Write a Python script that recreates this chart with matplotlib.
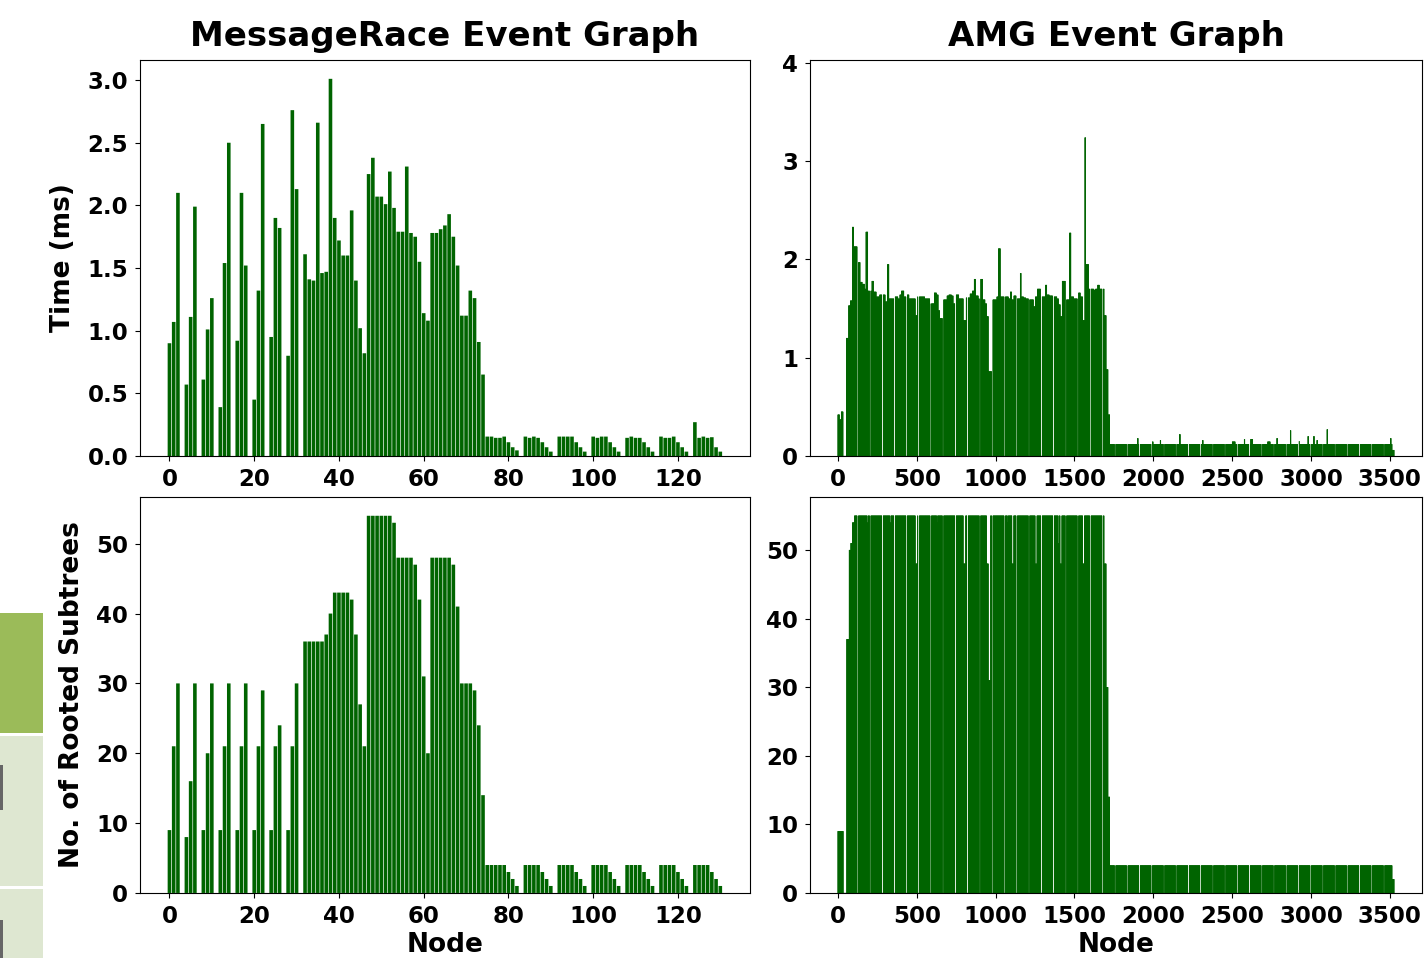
import numpy as np
import matplotlib
matplotlib.use("Agg")
import matplotlib.pyplot as plt
from matplotlib.patches import Rectangle

plt.rcParams['font.family'] = ['DejaVu Sans']
plt.rcParams['font.weight'] = 'bold'
plt.rcParams['axes.titleweight'] = 'bold'
plt.rcParams['axes.labelweight'] = 'bold'

# MessageRace event graph, one value per node (0..130)
mr_time = [0.90, 1.07, 2.10, 0, 0.57, 1.11, 1.99, 0, 0.61, 1.01, 1.26, 0,
           0.39, 1.54, 2.50, 0, 0.92, 2.10, 1.52, 0, 0.45, 1.32, 2.65, 0,
           0.95, 1.90, 1.82, 0, 0.80, 2.76, 2.13, 0, 1.61, 1.41, 1.40, 2.66,
           1.46, 1.47, 3.01, 1.90, 1.72, 1.60, 1.60, 1.96, 1.40, 1.02, 0.82, 2.25,
           2.38, 2.07, 2.07, 2.01, 2.27, 1.98, 1.79, 1.79, 2.31, 1.78, 1.75, 1.55,
           1.14, 1.08, 1.78, 1.78, 1.81, 1.84, 1.93, 1.75, 1.52, 1.12, 1.12, 1.32,
           1.26, 0.91, 0.65, 0.155, 0.155, 0.145, 0.145, 0.155, 0.11, 0.07, 0.045, 0,
           0.155, 0.145, 0.155, 0.145, 0.11, 0.07, 0.035, 0,
           0.155, 0.155, 0.155, 0.155, 0.11, 0.07, 0.035, 0,
           0.155, 0.145, 0.155, 0.155, 0.11, 0.07, 0.035, 0,
           0.145, 0.155, 0.145, 0.145, 0.11, 0.07, 0.035, 0,
           0.155, 0.145, 0.145, 0.155, 0.11, 0.07, 0.035, 0,
           0.27, 0.145, 0.155, 0.145, 0.15, 0.07, 0.035]

mr_subtrees = [9, 21, 30, 0, 8, 16, 30, 0, 9, 20, 30, 0,
               9, 21, 30, 0, 9, 21, 30, 0, 9, 21, 29, 0,
               9, 21, 24, 0, 9, 21, 30, 0, 36, 36, 36, 36,
               36, 37, 40, 43, 43, 43, 43, 42, 37, 27, 21, 54,
               54, 54, 54, 54, 54, 53, 48, 48, 48, 48, 47, 42,
               31, 20, 48, 48, 48, 48, 48, 47, 41, 30, 30, 30,
               29, 24, 14, 4, 4, 4, 4, 4, 3, 2, 1, 0,
               4, 4, 4, 4, 3, 2, 1, 0,
               4, 4, 4, 4, 3, 2, 1, 0,
               4, 4, 4, 4, 3, 2, 1, 0,
               4, 4, 4, 4, 3, 2, 1, 0,
               4, 4, 4, 4, 3, 2, 1, 0,
               4, 4, 4, 4, 3, 2, 1]

# AMG event graph, read as runs: first node of each run and its value
amg_nodes = 3528
amg_time_start = [0, 11, 21, 34, 53, 68, 79, 91, 102, 123, 142, 155, 170, 178,
                  191, 216, 227, 244, 265, 301, 314, 325, 361, 382, 393, 403,
                  420, 437, 452, 492, 505, 552, 584, 611, 626, 637, 647, 668,
                  692, 704, 721, 732, 749, 768, 785, 796, 813, 838, 853, 864,
                  874, 891, 906, 919, 934, 944, 955, 976, 1008, 1018, 1031,
                  1056, 1082, 1093, 1103, 1116, 1135, 1156, 1163, 1178, 1192,
                  1216, 1241, 1252, 1265, 1286, 1316, 1326, 1341, 1362, 1390,
                  1400, 1411, 1422, 1443, 1468, 1479, 1496, 1521, 1538, 1553,
                  1566, 1572, 1591, 1623, 1634, 1647, 1659, 1676, 1689, 1702,
                  1714, 1725, 1899, 1905, 1990, 2000, 2043, 2049, 2165, 2172,
                  2311, 2317, 2500, 2520, 2576, 2582, 2617, 2632, 2725, 2742,
                  2783, 2789, 2868, 2874, 2921, 2927, 2980, 2986, 3016, 3022,
                  3037, 3043, 3101, 3107, 3503, 3509, 3515]
amg_time_value = [0.42, 0.37, 0.45, 0.0, 1.20, 1.53, 1.58, 2.33, 2.13, 1.97, 1.77,
                  1.75, 1.70, 2.28, 1.68, 1.78, 1.67, 1.62, 1.64, 1.57, 1.95,
                  1.60, 1.62, 1.60, 1.64, 1.68, 1.62, 1.64, 1.60, 1.43, 1.62,
                  1.60, 1.55, 1.66, 1.64, 1.48, 1.40, 1.59, 1.63, 1.64, 1.63,
                  1.55, 1.64, 1.60, 1.60, 1.38, 1.61, 1.65, 1.68, 1.80, 1.63,
                  1.60, 1.80, 1.59, 1.55, 1.42, 0.86, 1.59, 1.62, 2.11, 1.62,
                  1.62, 1.60, 1.67, 1.59, 1.63, 1.60, 1.86, 1.62, 1.61, 1.60,
                  1.59, 1.52, 1.62, 1.70, 1.62, 1.74, 1.64, 1.63, 1.62, 1.60,
                  1.54, 1.42, 1.78, 1.59, 2.27, 1.62, 1.60, 1.66, 1.62, 1.38,
                  3.24, 1.95, 1.70, 1.69, 1.70, 1.74, 1.70, 1.70, 1.43, 0.88,
                  0.42, 0.12, 0.18, 0.12, 0.145, 0.12, 0.16, 0.12, 0.22, 0.12,
                  0.16, 0.12, 0.145, 0.12, 0.17, 0.12, 0.17, 0.12, 0.145, 0.12,
                  0.18, 0.12, 0.26, 0.12, 0.15, 0.12, 0.20, 0.12, 0.20, 0.12,
                  0.16, 0.12, 0.27, 0.12, 0.18, 0.12, 0.06]

amg_sub_start = [0, 35, 56, 71, 82, 92, 105, 187, 192, 331, 336, 492, 505,
                 628, 632, 796, 810, 944, 955, 968, 1076, 1080, 1105, 1115,
                 1252, 1262, 1398, 1403, 1410, 1420, 1553, 1563, 1689, 1702,
                 1714, 1725, 3515]
amg_sub_value = [9, 0, 37, 50, 51, 54, 55, 54, 55, 54, 55, 48, 55,
                 54, 55, 48, 55, 48, 31, 55, 54, 55, 48, 55,
                 48, 55, 51, 55, 48, 55, 48, 55, 48, 30,
                 14, 4, 2]

# empty node runs (white stripes) seen in both AMG panels
amg_gap_start = [123, 202, 280, 356, 433, 509, 586, 664, 743, 819, 898, 976,
                 1055, 1131, 1209, 1288, 1364, 1443, 1519, 1598, 1676, 1755,
                 1832, 1910, 1987, 2065, 2142, 2220, 2297, 2375, 2452, 2530,
                 2607, 2685, 2762, 2840, 2917, 2995, 3072, 3150, 3227, 3305,
                 3382, 3460]
amg_gap_len = 7


def expand(starts, values, n):
    lengths = np.diff(list(starts) + [n])
    return np.repeat(values, lengths).astype(float)


amg_time = expand(amg_time_start, amg_time_value, amg_nodes)
amg_subtrees = expand(amg_sub_start, amg_sub_value, amg_nodes)
for s in amg_gap_start:
    amg_time[s:s + amg_gap_len] = 0
    amg_subtrees[s:s + amg_gap_len] = 0
mr_x = np.arange(len(mr_time))
amg_x = np.arange(amg_nodes)

bar_color = '#006400'
tick_size = 16.5
label_size = 19
title_size = 24.5

fig = plt.figure(figsize=(14.25, 9.58), dpi=100)

# strips of a slide table peeking in at the left edge
fig.add_artist(Rectangle((0, 0.2349), 0.0302, 0.1252, transform=fig.transFigure,
                         facecolor='#9BBB59', edgecolor='none'))
fig.add_artist(Rectangle((0, 0.0752), 0.0302, 0.1565, transform=fig.transFigure,
                         facecolor='#DEE7D1', edgecolor='none'))
fig.add_artist(Rectangle((0, 0.0), 0.0302, 0.0720, transform=fig.transFigure,
                         facecolor='#DEE7D1', edgecolor='none'))
fig.add_artist(Rectangle((0, 0.1545), 0.0018, 0.047, transform=fig.transFigure,
                         facecolor='#666666', edgecolor='none'))
fig.add_artist(Rectangle((0, 0.0), 0.0018, 0.0397, transform=fig.transFigure,
                         facecolor='#666666', edgecolor='none'))

ax1 = fig.add_axes([0.0982, 0.524, 0.428, 0.4134])
ax2 = fig.add_axes([0.5684, 0.524, 0.4295, 0.4134])
ax3 = fig.add_axes([0.0982, 0.0679, 0.428, 0.4134])
ax4 = fig.add_axes([0.5684, 0.0679, 0.4295, 0.4134])

ax1.bar(mr_x, mr_time, width=0.85, color=bar_color, snap=False)
ax1.set_title('MessageRace Event Graph', fontsize=title_size, pad=10)
ax1.set_ylabel('Time (ms)', fontsize=label_size, labelpad=8)
ax1.set_xticks(np.arange(0, 121, 20))
ax1.set_yticks(np.arange(0, 3.01, 0.5))
ax1.set_yticklabels(['%.1f' % v for v in np.arange(0, 3.01, 0.5)])

ax2.bar(amg_x, amg_time, color=bar_color, edgecolor=bar_color,
        linewidth=0.2, snap=False)
ax2.set_title('AMG Event Graph', fontsize=title_size, pad=10)
ax2.set_ylim(0, 4.03)
ax2.set_xticks(np.arange(0, 3501, 500))
ax2.set_yticks([0, 1, 2, 3, 4])

ax3.bar(mr_x, mr_subtrees, width=0.85, color=bar_color, snap=False)
ax3.set_xlabel('Node', fontsize=label_size, labelpad=3)
ax3.set_ylabel('No. of Rooted Subtrees', fontsize=label_size, labelpad=8)
ax3.set_xticks(np.arange(0, 121, 20))
ax3.set_yticks(np.arange(0, 51, 10))

ax4.bar(amg_x, amg_subtrees, color=bar_color, edgecolor=bar_color,
        linewidth=0.2, snap=False)
ax4.set_xlabel('Node', fontsize=label_size, labelpad=3)
ax4.set_xticks(np.arange(0, 3501, 500))
ax4.set_yticks(np.arange(0, 51, 10))

for ax in (ax1, ax2, ax3, ax4):
    ax.tick_params(labelsize=tick_size, pad=5)
    for lab in ax.get_xticklabels() + ax.get_yticklabels():
        lab.set_fontweight('bold')

fig.savefig('out.png', dpi=100)
